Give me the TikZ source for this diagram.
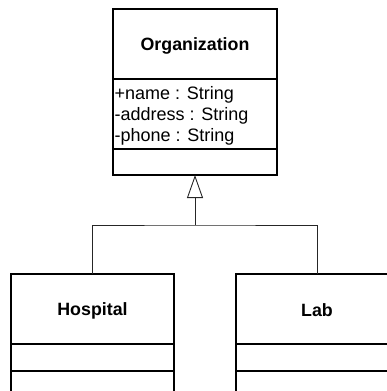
\documentclass[tikz,border=0pt]{standalone}
\usepackage{fontspec}
\setmainfont{Liberation Sans}
\usetikzlibrary{arrows.meta}
\begin{document}
\begin{tikzpicture}[x=1pt,y=-1pt,
  box/.style={draw=black,line width=1.3pt,rectangle,inner sep=0pt,outer sep=0pt,minimum width=#1},
  title/.style={font=\fontsize{17.8}{20}\selectfont\bfseries},
  attrs/.style={font=\fontsize{18}{21}\selectfont,align=left,inner sep=0pt,anchor=west},
  conn/.style={draw=black!85,line width=0.9pt}]
\useasboundingbox (0,0) rectangle (387,391);
\clip (0,0) rectangle (387,391);
% Organization
\node[box=164pt,minimum height=70pt] (org) at (195,44) {};
\node[title] (orgname) at (195,45.5) {Organization};
\node[box=164pt,minimum height=70pt] (orgattr) at (195,114) {};
\node[box=164pt,minimum height=26pt] (orgops) at (195,162) {};
\node[attrs] (orgtxt) at (114.5,115.5) {+name : String\\-address : String\\-phone : String};
% Hospital
\node[box=163pt,minimum height=70pt] (hosp) at (92.5,309) {};
\node[title] (hospname) at (92.5,310.5) {Hospital};
\node[box=163pt,minimum height=27pt] (hospattr) at (92.5,357.5) {};
\node[box=163pt,minimum height=60pt] (hospops) at (92.5,401) {};
% Lab
\node[box=162pt,minimum height=70pt] (lab) at (317,309) {};
\node[title] (labname) at (317,310.5) {Lab};
\node[box=162pt,minimum height=27pt] (labattr) at (317,357.5) {};
\node[box=162pt,minimum height=60pt] (labops) at (317,401) {};
% generalization
\coordinate (j) at (195,225);
\draw[conn] (hosp.north) |- (j) -| (lab.north);
\draw[conn,-{Triangle[open,length=23pt,width=16pt,line width=0.9pt]}] (j) -- (orgops.south);
\end{tikzpicture}
\end{document}
